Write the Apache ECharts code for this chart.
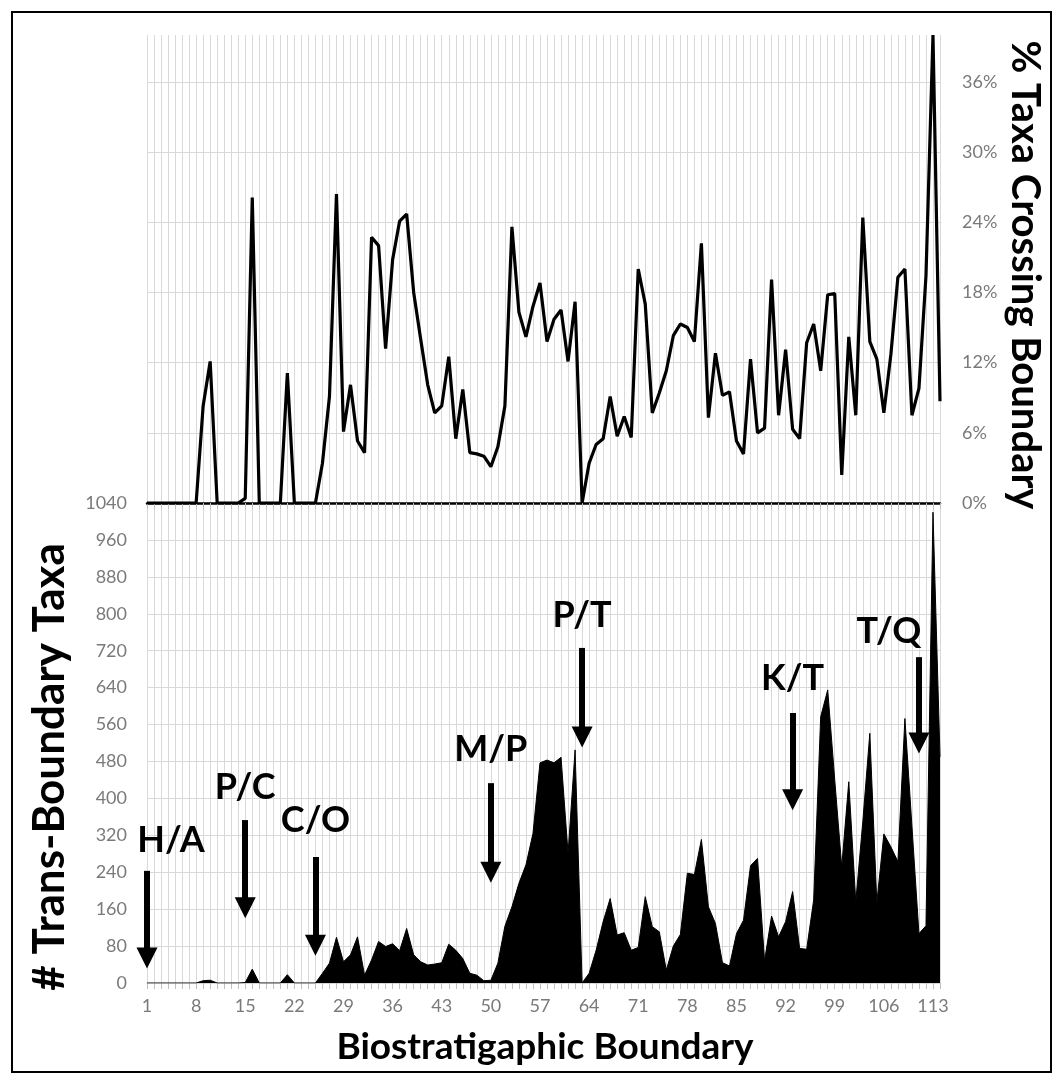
<!DOCTYPE html>
<html>
<head>
<meta charset="utf-8">
<script src="https://cdn.jsdelivr.net/npm/echarts@6/dist/echarts.min.js"></script>
<style>
  html, body { margin: 0; padding: 0; background: #fff; }
  #chart { width: 1063px; height: 1082px; }
</style>
</head>
<body>
<div id="chart"></div>
<script>
// boundaries 1..114 (labels every 7th)
const boundaries = [];
for (let i = 1; i <= 114; i++) boundaries.push(String(i));

// % of taxa crossing each boundary (top panel)
const pctCrossing = [
  0, 0, 0, 0, 0, 0, 0, 0, 8.3, 12.1,
  0, 0, 0, 0, 0.4, 26.1, 0, 0, 0, 0,
  11.1, 0, 0, 0, 0, 3.4, 9.1, 26.4, 6.1, 10.1,
  5.3, 4.3, 22.7, 22.0, 13.2, 20.8, 24.1, 24.7, 18.0, 14.0,
  10.1, 7.7, 8.3, 12.5, 5.5, 9.7, 4.3, 4.2, 4.0, 3.1,
  4.8, 8.3, 23.6, 16.3, 14.2, 16.8, 18.8, 13.8, 15.7, 16.5,
  12.1, 17.2, 0, 3.4, 5.0, 5.5, 9.1, 5.7, 7.4, 5.6,
  20.0, 17.0, 7.7, 9.4, 11.3, 14.3, 15.3, 15.0, 13.8, 22.2,
  7.3, 12.8, 9.2, 9.5, 5.3, 4.2, 12.3, 6.0, 6.4, 19.1,
  7.5, 13.1, 6.3, 5.5, 13.7, 15.3, 11.3, 17.8, 17.9, 2.4,
  14.2, 7.5, 24.4, 13.8, 12.3, 7.7, 12.7, 19.3, 20.0, 7.5,
  9.8, 19.4, 40, 8.7
];

// number of trans-boundary taxa (bottom panel)
const transTaxa = [
  0, 0, 0, 0, 0, 0, 0, 0, 5, 6,
  0, 0, 0, 0, 1, 30, 0, 0, 0, 0,
  18, 0, 0, 0, 0, 21, 43, 99, 46, 61,
  100, 17, 50, 90, 79, 85, 70, 118, 61, 46,
  39, 41, 44, 84, 71, 53, 21, 17, 5, 6,
  43, 123, 165, 216, 256, 324, 477, 483, 477, 489,
  281, 505, 0, 21, 71, 133, 183, 104, 109, 71,
  77, 187, 122, 111, 28, 80, 105, 238, 235, 311,
  165, 129, 44, 37, 107, 136, 254, 270, 48, 145,
  100, 133, 198, 75, 73, 180, 577, 635, 440, 252,
  436, 176, 350, 541, 174, 323, 295, 263, 573, 340,
  107, 124, 1020, 490
];

// extinction-boundary arrows: [label, boundary, arrow top, arrow head, label y, label dx]
const events = [
  ['H/A', '1', 243, 54, 310, 24],
  ['P/C', '15', 353, 163, 423, 0],
  ['C/O', '25', 273, 82, 353, 0],
  ['M/P', '50', 433, 240, 507, 0],
  ['P/T', '63', 726, 533, 797, 0],
  ['K/T', '93', 585, 397, 661, 0],
  ['T/Q', '111', 706, 520, 761, -30]
];

const chart = echarts.init(document.getElementById('chart'));
const grey = '#d9d9d9';
const tickFont = { color: '#7a7a7a', fontSize: 18, fontFamily: 'Lato' };

const option = {
  animation: false,
  backgroundColor: '#fff',
  grid: [
    { left: 147, right: 123, top: 35, height: 468 },
    { left: 147, right: 123, top: 503, height: 480 }
  ],
  xAxis: [
    {
      type: 'category', gridIndex: 0, data: boundaries, boundaryGap: false,
      axisLine: { lineStyle: { color: '#000', width: 2.5 } },
      axisTick: { show: true, interval: 0, length: 6, lineStyle: { color: '#bfbfbf' } },
      axisLabel: { show: false },
      splitLine: { show: true, interval: 0, lineStyle: { color: grey } }
    },
    {
      type: 'category', gridIndex: 1, data: boundaries, boundaryGap: false,
      axisLine: { lineStyle: { color: grey } },
      axisTick: { show: true, interval: 0, length: 6, lineStyle: { color: '#bfbfbf' } },
      axisLabel: Object.assign({ interval: 6, margin: 14 }, tickFont),
      splitLine: { show: true, interval: 0, lineStyle: { color: grey } }
    }
  ],
  yAxis: [
    {
      type: 'value', gridIndex: 0, position: 'right', min: 0, max: 40, interval: 6,
      axisLine: { show: false }, axisTick: { show: false },
      axisLabel: Object.assign({
        margin: 22, showMaxLabel: false,
        formatter: v => (v > 36 ? '' : v + '%')
      }, tickFont),
      splitLine: { show: true, showMaxLine: false, lineStyle: { color: grey } }
    },
    {
      type: 'value', gridIndex: 1, min: 0, max: 1040, interval: 80,
      axisLine: { show: false }, axisTick: { show: false },
      axisLabel: Object.assign({ margin: 20, formatter: v => String(v) }, tickFont),
      splitLine: { show: true, lineStyle: { color: grey } }
    }
  ],
  series: [
    {
      name: '% Taxa Crossing Boundary',
      type: 'line', xAxisIndex: 0, yAxisIndex: 0,
      data: pctCrossing, symbol: 'none',
      lineStyle: { color: '#000', width: 3.2 },
      z: 3
    },
    {
      name: '# Trans-Boundary Taxa',
      type: 'line', xAxisIndex: 1, yAxisIndex: 1,
      data: transTaxa, symbol: 'none',
      lineStyle: { color: '#000', width: 1 },
      areaStyle: { color: '#000', opacity: 1 },
      markLine: {
        silent: true,
        symbol: ['none', 'triangle'],
        symbolSize: 21,
        label: { show: false },
        lineStyle: { color: '#000', width: 6, type: 'solid', opacity: 1 },
        itemStyle: { color: '#000' },
        data: events.map(e => [
          { coord: [e[1], e[2]] },
          { coord: [e[1], e[3]] }
        ])
      },
      markPoint: {
        silent: true,
        symbol: 'rect', symbolSize: 1,
        itemStyle: { color: 'rgba(0,0,0,0)' },
        data: events.map(e => ({
          name: e[0], coord: [e[1], e[4]],
          label: {
            show: true, position: 'inside', formatter: e[0], offset: [e[5], 0],
            color: '#000', fontSize: 36, fontWeight: 'bold', fontFamily: 'Lato'
          }
        }))
      },
      z: 2
    }
  ],
  graphic: [
    {
      type: 'text', x: 50, y: 767, rotation: Math.PI / 2,
      style: { text: '# Trans-Boundary Taxa', font: 'bold 44px Lato', fill: '#000', align: 'center', verticalAlign: 'middle' }
    },
    {
      type: 'text', x: 1025, y: 275, rotation: -Math.PI / 2,
      style: { text: '% Taxa Crossing Boundary', font: 'bold 40px Lato', fill: '#000', align: 'center', verticalAlign: 'middle' }
    },
    {
      type: 'text', x: 545, y: 1047,
      style: { text: 'Biostratigaphic Boundary', font: 'bold 37px Lato', fill: '#000', align: 'center', verticalAlign: 'middle' }
    },
    {
      type: 'rect', shape: { x: 12, y: 12, width: 1039, height: 1060 },
      style: { fill: 'none', stroke: '#000', lineWidth: 2 }, silent: true
    }
  ]
};

chart.setOption(option);
</script>
</body>
</html>
